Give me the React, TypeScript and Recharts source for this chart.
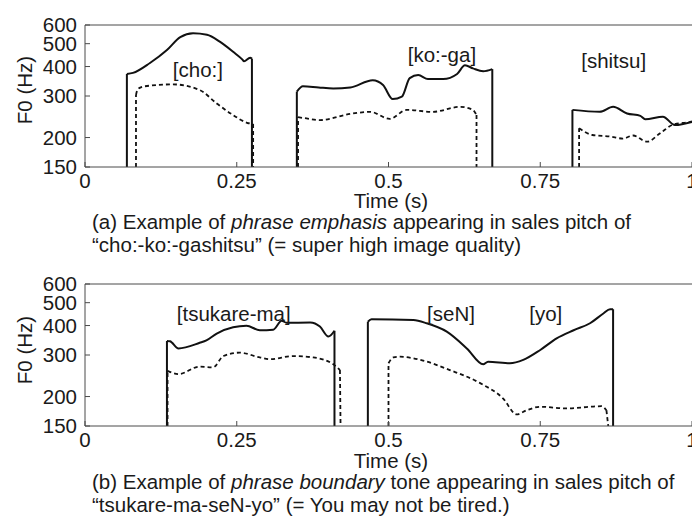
import { LineChart, Line, XAxis, YAxis, ReferenceDot } from "recharts";

// ---------------------------------------------------------------------------
// Data: F0 contours as [time (s), F0 (Hz)] pairs. 150 Hz = voicing on/off.
// ---------------------------------------------------------------------------

type Pt = [number, number];

// (a) "cho:-ko:-gashitsu"
const choSolid: Pt[] = [
  [0.069, 150], [0.069, 372], [0.079, 376], [0.107, 414], [0.135, 470],
  [0.157, 533], [0.178, 553], [0.201, 545], [0.222, 510], [0.244, 462],
  [0.259, 429], [0.262, 421], [0.272, 436], [0.275, 432], [0.275, 150],
];
const choDashed: Pt[] = [
  [0.084, 150], [0.084, 303], [0.087, 321], [0.099, 330], [0.145, 336],
  [0.189, 318], [0.217, 279], [0.244, 249], [0.267, 231], [0.277, 228],
  [0.277, 150],
];
const kogaSolid: Pt[] = [
  [0.349, 150], [0.349, 313], [0.359, 330], [0.385, 326], [0.409, 323],
  [0.437, 326], [0.474, 350], [0.491, 334], [0.507, 291], [0.522, 298],
  [0.535, 357], [0.549, 368], [0.565, 354], [0.59, 354], [0.613, 372],
  [0.626, 405], [0.639, 393], [0.656, 382], [0.671, 390], [0.671, 150],
];
const kogaDashed: Pt[] = [
  [0.351, 150], [0.351, 244], [0.365, 241], [0.387, 237], [0.437, 252],
  [0.47, 257], [0.502, 240], [0.53, 262], [0.573, 257], [0.618, 270],
  [0.639, 262], [0.645, 249], [0.645, 150],
];
const shitsuSolid: Pt[] = [
  [0.803, 150], [0.803, 262], [0.848, 257], [0.87, 270], [0.893, 253],
  [0.915, 247], [0.923, 239], [0.952, 245], [0.972, 226], [1.0, 233],
];
const shitsuDashed: Pt[] = [
  [0.814, 150], [0.814, 219], [0.836, 205], [0.865, 202], [0.886, 198],
  [0.903, 204], [0.926, 192], [0.947, 208], [0.969, 227], [0.997, 233],
  [1.0, 234],
];

// (b) "tsukare-ma-seN-yo"
const tsukSolid: Pt[] = [
  [0.135, 150], [0.135, 344], [0.14, 343], [0.154, 320], [0.189, 338],
  [0.2, 346], [0.217, 370], [0.244, 393], [0.266, 399], [0.288, 382],
  [0.31, 384], [0.324, 419], [0.332, 411], [0.371, 412], [0.387, 396],
  [0.401, 359], [0.411, 380], [0.411, 150],
];
const tsukDashed: Pt[] = [
  [0.136, 150], [0.136, 257], [0.154, 249], [0.189, 268], [0.211, 266],
  [0.228, 297], [0.255, 307], [0.288, 293], [0.305, 288], [0.343, 297],
  [0.376, 293], [0.409, 274], [0.42, 259], [0.421, 150],
];
const senSolid: Pt[] = [
  [0.466, 150], [0.466, 415], [0.472, 425], [0.541, 422], [0.563, 409],
  [0.596, 377], [0.629, 320], [0.656, 274], [0.664, 281], [0.7, 277],
  [0.722, 286], [0.75, 315], [0.777, 353], [0.805, 382], [0.832, 409],
  [0.854, 450], [0.865, 469], [0.87, 469], [0.87, 150],
];
const senDashed: Pt[] = [
  [0.5, 150], [0.5, 277], [0.508, 293], [0.519, 295], [0.557, 284],
  [0.601, 259], [0.651, 228], [0.689, 196], [0.711, 168], [0.728, 175],
  [0.75, 181], [0.794, 178], [0.832, 181], [0.851, 182], [0.859, 175],
  [0.862, 150],
];

// segment labels: [text, time, F0]
const labelsA: [string, number, number][] = [
  ["[cho:]", 0.186, 387],
  ["[ko:-ga]", 0.588, 447],
  ["[shitsu]", 0.871, 423],
];
const labelsB: [string, number, number][] = [
  ["[tsukare-ma]", 0.245, 450],
  ["[seN]", 0.603, 450],
  ["[yo]", 0.759, 450],
];

const xTicks = [0, 0.25, 0.5, 0.75, 1];
const yTicks = [150, 200, 300, 400, 500, 600];
const topTicks = [0.25, 0.5, 0.75];
const rightTicks = [200, 300, 400, 500];

// ---------------------------------------------------------------------------
// Styles
// ---------------------------------------------------------------------------

const FONT = "'Liberation Sans', Arial, Helvetica, sans-serif";
const FS = 20.5;
const INK = "#1a1a1a";
const FRAME = "#4a4a4a";
const TICK = { fill: INK, fontSize: FS, fontFamily: FONT };

const toRows = (pts: Pt[]) => pts.map(([t, f]) => ({ t, f }));

// split a voiced segment into its straight on/off edges and the smooth contour
function splitSegment(pts: Pt[]) {
  const edges: Pt[][] = [];
  let a = 0;
  let b = pts.length;
  if (pts[0][1] === 150) {
    edges.push([pts[0], pts[1]]);
    a = 1;
  }
  if (pts[pts.length - 1][1] === 150) {
    edges.push([pts[pts.length - 2], pts[pts.length - 1]]);
    b = pts.length - 1;
  }
  return { edges, contour: pts.slice(a, b) };
}

// ---------------------------------------------------------------------------
// Panel
// ---------------------------------------------------------------------------

function Panel({
  solid,
  dashed,
  labels,
}: {
  solid: Pt[][];
  dashed: Pt[][];
  labels: [string, number, number][];
}) {
  const series: { pts: Pt[]; dashedStyle: boolean }[] = [
    ...dashed.map((pts) => ({ pts, dashedStyle: true })),
    ...solid.map((pts) => ({ pts, dashedStyle: false })),
  ];

  return (
    <LineChart width={700} height={197} margin={{ top: 25, right: 8, bottom: 0, left: 0 }}>
      <XAxis
        xAxisId="b"
        type="number"
        dataKey="t"
        domain={[0, 1]}
        ticks={xTicks}
        interval={0}
        allowDataOverflow
        height={30}
        tickSize={-5}
        tickMargin={11}
        tick={TICK}
        axisLine={{ stroke: FRAME }}
        tickLine={{ stroke: FRAME }}
      />
      <XAxis
        xAxisId="t"
        orientation="top"
        mirror
        type="number"
        domain={[0, 1]}
        ticks={topTicks}
        interval={0}
        allowDataOverflow
        tick={false}
        tickSize={5}
        axisLine={{ stroke: FRAME }}
        tickLine={{ stroke: FRAME }}
      />
      <YAxis
        yAxisId="l"
        type="number"
        scale="log"
        domain={[150, 600]}
        ticks={yTicks}
        interval={0}
        allowDataOverflow
        width={85}
        tickSize={-5}
        tickMargin={13}
        tick={TICK}
        axisLine={{ stroke: FRAME }}
        tickLine={{ stroke: FRAME }}
      />
      <YAxis
        yAxisId="r"
        orientation="right"
        mirror
        type="number"
        scale="log"
        domain={[150, 600]}
        ticks={rightTicks}
        interval={0}
        allowDataOverflow
        width={0}
        tick={false}
        tickSize={5}
        axisLine={{ stroke: FRAME }}
        tickLine={{ stroke: FRAME }}
      />
      {series.map(({ pts, dashedStyle }, i) => {
        const { edges, contour } = splitSegment(pts);
        const common = {
          xAxisId: "b",
          yAxisId: "l",
          dataKey: "f",
          stroke: "#111",
          strokeWidth: dashedStyle ? 1.8 : 2,
          strokeDasharray: dashedStyle ? "4 3" : undefined,
          dot: false,
          activeDot: false,
          isAnimationActive: false,
        } as const;
        return [
          <Line key={`c${i}`} {...common} data={toRows(contour)} type="monotone" />,
          ...edges.map((e, j) => (
            <Line key={`e${i}-${j}`} {...common} data={toRows(e)} type="linear" />
          )),
        ];
      })}
      {labels.map(([text, t, f]) => (
        <ReferenceDot
          key={text}
          xAxisId="b"
          yAxisId="l"
          x={t}
          y={f}
          r={0}
          fill="none"
          stroke="none"
          label={{ value: text, position: "center", fill: INK, fontSize: FS, fontFamily: FONT }}
        />
      ))}
    </LineChart>
  );
}

// ---------------------------------------------------------------------------
// Text helpers
// ---------------------------------------------------------------------------

function Txt({
  x,
  y,
  center,
  children,
}: {
  x: number;
  y: number;
  center?: boolean;
  children: React.ReactNode;
}) {
  return (
    <div
      style={{
        position: "absolute",
        left: x,
        top: y - 10,
        lineHeight: "20px",
        fontSize: FS,
        whiteSpace: "nowrap",
        color: INK,
        transform: center ? "translateX(-50%)" : undefined,
      }}
    >
      {children}
    </div>
  );
}

function YTitle({ y }: { y: number }) {
  return (
    <div
      style={{
        position: "absolute",
        left: 25,
        top: y,
        lineHeight: "20px",
        fontSize: FS,
        whiteSpace: "nowrap",
        color: INK,
        transform: "translate(-50%, -50%) rotate(-90deg)",
      }}
    >
      F0 (Hz)
    </div>
  );
}

// ---------------------------------------------------------------------------
// App
// ---------------------------------------------------------------------------

export default function App() {
  return (
    <div
      style={{
        position: "absolute",
        left: 0,
        top: 0,
        width: 692,
        height: 518,
        overflow: "hidden",
        background: "#fff",
        fontFamily: FONT,
      }}
    >
      <div style={{ position: "absolute", left: 0, top: 0 }}>
        <Panel
          solid={[choSolid, kogaSolid, shitsuSolid]}
          dashed={[choDashed, kogaDashed, shitsuDashed]}
          labels={labelsA}
        />
      </div>
      <div style={{ position: "absolute", left: 0, top: 259 }}>
        <Panel
          solid={[tsukSolid, senSolid]}
          dashed={[tsukDashed, senDashed]}
          labels={labelsB}
        />
      </div>

      <YTitle y={90} />
      <YTitle y={350} />

      <Txt x={391} y={201} center>Time (s)</Txt>
      <Txt x={92} y={222}>
        (a) Example of <i>phrase emphasis</i> appearing in sales pitch of
      </Txt>
      <Txt x={92} y={245}>
        “cho:-ko:-gashitsu” (= super high image quality)
      </Txt>

      <Txt x={391} y={461} center>Time (s)</Txt>
      <Txt x={92} y={482}>
        (b) Example of <i>phrase boundary</i> tone appearing in sales pitch of
      </Txt>
      <Txt x={92} y={505}>
        “tsukare-ma-seN-yo” (= You may not be tired.)
      </Txt>
    </div>
  );
}
